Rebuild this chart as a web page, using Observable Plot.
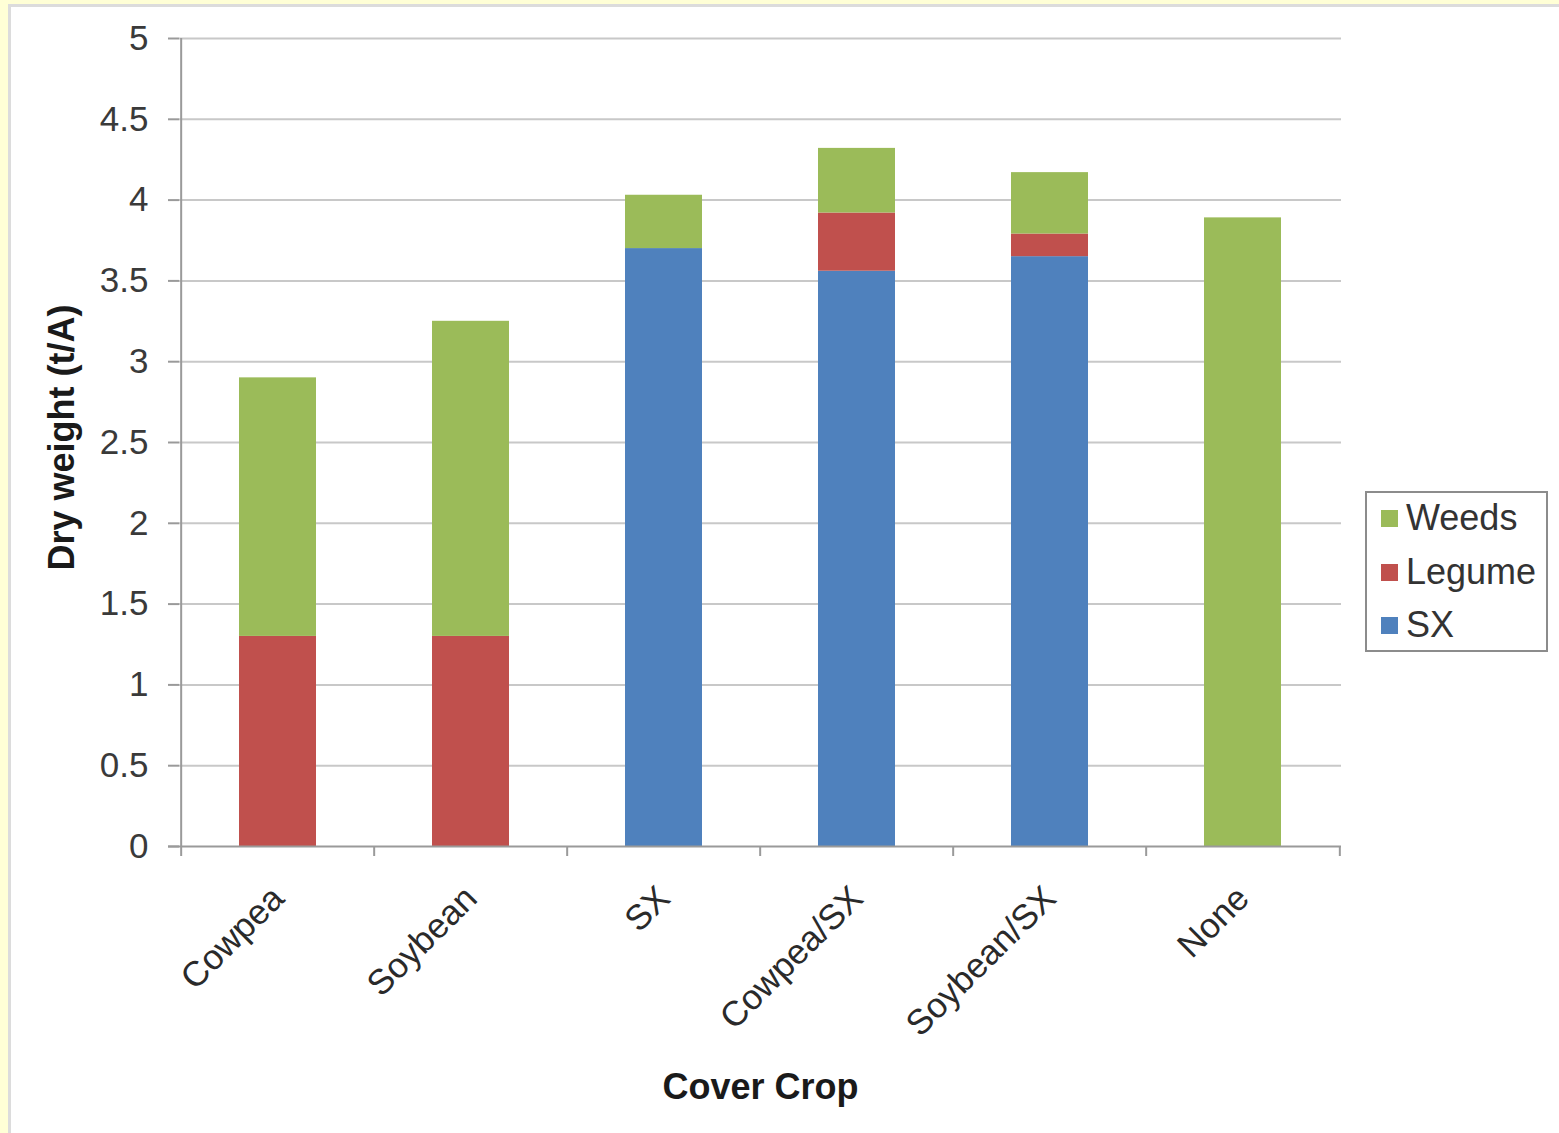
<!DOCTYPE html>
<html>
<head>
<meta charset="utf-8">
<script src="https://cdn.jsdelivr.net/npm/d3@7"></script>
<script src="https://cdn.jsdelivr.net/npm/@observablehq/plot@0.6"></script>
<style>
  html, body { margin: 0; padding: 0; background: #ffffd6; }
  body { width: 1559px; height: 1133px; overflow: hidden; position: relative;
         font-family: "Liberation Sans", Arial, sans-serif; }
  #panel { position: absolute; left: 8px; top: 4px; width: 1560px; height: 1140px;
           background: #fff; border-left: 3px solid #dcdcdc; border-top: 3px solid #dcdcdc;
           box-sizing: border-box; }
  #chart { position: absolute; left: 0; top: 0; }
  .legend { position: absolute; left: 1365px; top: 491px; width: 183px; height: 161px;
            border: 2px solid #8c8c8c; box-sizing: border-box; background: #fff; }
  .legend .row { position: absolute; left: 14px; height: 40px; display: flex; align-items: center;
                 font-size: 36px; color: #333; white-space: nowrap; }
  .legend .sw { width: 17px; height: 17px; margin-right: 8px; }
</style>
</head>
<body>
<div id="panel"></div>
<div id="chart"></div>
<script>
// Dry weight (t/A) of each cover crop treatment, split by component
const categories = ["Cowpea", "Soybean", "SX", "Cowpea/SX", "Soybean/SX", "None"];
const sxValues     = [0,    0,    3.70, 3.56, 3.65, 0];
const legumeValues = [1.30, 1.30, 0,    0.36, 0.14, 0];
const weedsValues  = [1.60, 1.95, 0.33, 0.40, 0.38, 3.89];

// Stack order, bottom to top
const series = ["SX", "Legume", "Weeds"];
const seriesColors = ["#4f81bd", "#c0504d", "#9bbb59"];
const yTicks = [0, 0.5, 1, 1.5, 2, 2.5, 3, 3.5, 4, 4.5, 5];

const rows = [];
categories.forEach((crop, i) => {
  rows.push({crop, part: "SX", value: sxValues[i]});
  rows.push({crop, part: "Legume", value: legumeValues[i]});
  rows.push({crop, part: "Weeds", value: weedsValues[i]});
});

// Frame geometry
const W = 1559, H = 1133;
const plotLeft = 179, plotRight = 1341, plotTop = 38, plotBottom = 846;
const step = (plotRight - plotLeft) / categories.length;
const axisGray = "#9a9a9a";
const font = "Liberation Sans, Arial, sans-serif";

const chart = Plot.plot({
  width: W,
  height: H,
  marginLeft: plotLeft,
  marginRight: W - plotRight,
  marginTop: plotTop,
  marginBottom: H - plotBottom,
  style: {background: "transparent", fontFamily: font, color: "#333", overflow: "visible"},
  x: {type: "band", domain: categories, paddingInner: 0.6, paddingOuter: 0.3, align: 0.5, label: null},
  y: {domain: [0, 5], label: null},
  color: {domain: series, range: seriesColors},
  marks: [
    Plot.ruleY(yTicks.filter(t => t > 0), {y: d => d, stroke: "#c8c8c8", strokeWidth: 2}),
    Plot.barY(rows, {x: "crop", y: "value", fill: "part", order: series}),
    // category axis line and the boundary ticks between categories
    Plot.ruleY([0], {y: d => d, stroke: axisGray, strokeWidth: 2, insetLeft: -11}),
    Plot.ruleX(categories, {x: d => d, dx: -step / 2, y1: 0, y2: 0, insetBottom: -10, stroke: axisGray, strokeWidth: 2}),
    Plot.ruleX([categories[categories.length - 1]], {x: d => d, dx: step / 2, y1: 0, y2: 0, insetBottom: -10, stroke: axisGray, strokeWidth: 2}),
    // value axis line
    Plot.ruleX([categories[0]], {x: d => d, dx: -step / 2, y1: 0, y2: 5, stroke: axisGray, strokeWidth: 2}),
    Plot.axisY({ticks: yTicks, tickFormat: d => String(d), tickSize: 11, tickPadding: 20, fontSize: 35,
                stroke: axisGray, fill: "#3a3a3a", strokeWidth: 2, label: null}),
    Plot.axisX({tickSize: 0, tickRotate: -45, tickPadding: 46, fontSize: 35, fill: "#2a2a2a", label: null}),
    Plot.text(["Dry weight (t/A)"], {frameAnchor: "left", textAnchor: "middle", lineAnchor: "middle",
                                      dx: -117, dy: -5, rotate: -90, fontSize: 36, fontWeight: "bold", fill: "#1a1a1a"}),
    Plot.text(["Cover Crop"], {frameAnchor: "bottom", textAnchor: "middle", lineAnchor: "middle",
                               dy: 241, fontSize: 36, fontWeight: "bold", fill: "#1a1a1a"})
  ]
});
document.getElementById("chart").appendChild(chart);

// Legend, top entry is the top of the stack
const legend = document.createElement("div");
legend.className = "legend";
const legendOrder = series.slice().reverse();
const legendTops = [5, 59, 112];
legendOrder.forEach((name, i) => {
  const row = document.createElement("div");
  row.className = "row";
  row.style.top = legendTops[i] + "px";
  const sw = document.createElement("div");
  sw.className = "sw";
  sw.style.background = seriesColors[series.indexOf(name)];
  const label = document.createElement("span");
  label.textContent = name;
  row.appendChild(sw);
  row.appendChild(label);
  legend.appendChild(row);
});
document.body.appendChild(legend);
</script>
</body>
</html>
